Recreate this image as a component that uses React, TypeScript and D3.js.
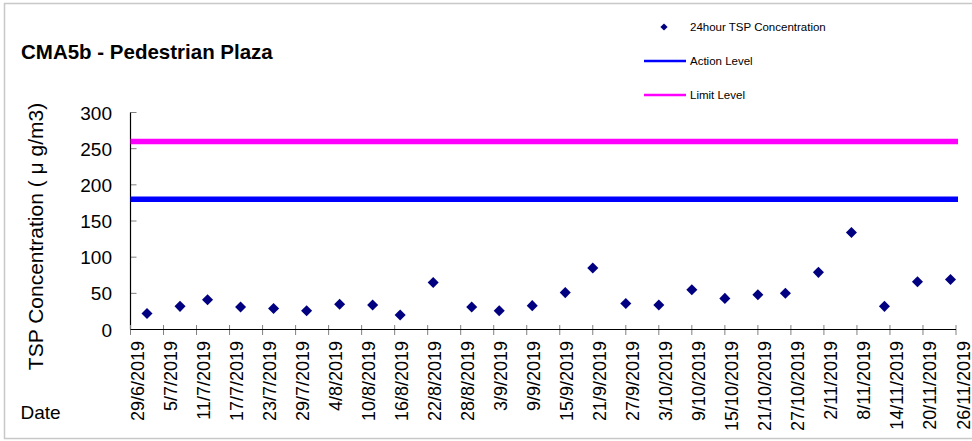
import React from "react";
import * as d3 from "d3";

const tickLabels = ["29/6/2019","5/7/2019","11/7/2019","17/7/2019","23/7/2019","29/7/2019","4/8/2019","10/8/2019","16/8/2019","22/8/2019","28/8/2019","3/9/2019","9/9/2019","15/9/2019","21/9/2019","27/9/2019","3/10/2019","9/10/2019","15/10/2019","21/10/2019","27/10/2019","2/11/2019","8/11/2019","14/11/2019","20/11/2019","26/11/2019"];
const sampleDates = ["2/7/2019","8/7/2019","13/7/2019","19/7/2019","25/7/2019","31/7/2019","6/8/2019","12/8/2019","17/8/2019","23/8/2019","30/8/2019","4/9/2019","10/9/2019","16/9/2019","21/9/2019","27/9/2019","3/10/2019","9/10/2019","15/10/2019","21/10/2019","26/10/2019","1/11/2019","7/11/2019","13/11/2019","19/11/2019","25/11/2019"];
const tspValues = [22, 32, 41, 31, 29, 26, 35, 34, 20, 65, 31, 26, 33, 51, 85, 36, 34, 55, 43, 48, 50, 79, 134, 32, 66, 69];
const yTicks = [0, 50, 100, 150, 200, 250, 300];
const actionLevel = 180;
const limitLevel = 260;

const parse = d3.utcParse("%d/%m/%Y");
const FONT = "'Liberation Sans', Arial, sans-serif";

export default function App() {
  const tickDates = tickLabels.map((t) => parse(t) as Date);
  const x = d3.scaleUtc().domain([tickDates[0], tickDates[tickDates.length - 1]]).range([130.5, 956]);
  const y = d3.scaleLinear().domain([0, 300]).range([329.5, 112.5]);
  const xL = x.range()[0];
  const xR = x.range()[1];
  const diamond = d3.symbol(d3.symbolSquare, 61)();
  const diamondSmall = d3.symbol(d3.symbolSquare, 26)();

  return (
    <svg width={972} height={441} style={{ position: "absolute", left: 0, top: 0, background: "#fff" }} fontFamily={FONT}>
      <rect x={0} y={0} width={972} height={441} fill="#fff" />
      <rect x={4.5} y={3.5} width={980} height={435} fill="none" stroke="#c8c8c8" strokeWidth={1.5} />

      <text x={21} y={59} fontSize={20.5} fontWeight="bold" fill="#000">CMA5b - Pedestrian Plaza</text>

      {/* legend */}
      <path d={diamondSmall!} transform="translate(664,27) rotate(45)" fill="#000080" />
      <text x={690} y={31} fontSize={11.5} fill="#000">24hour TSP Concentration</text>
      <line x1={644} x2={686} y1={61} y2={61} stroke="#0000ff" strokeWidth={2.7} />
      <text x={690} y={65} fontSize={11.5} fill="#000">Action Level</text>
      <line x1={644} x2={686} y1={95} y2={95} stroke="#ff00ff" strokeWidth={2.7} />
      <text x={690} y={99} fontSize={11.5} fill="#000">Limit Level</text>

      {/* y axis */}
      {yTicks.map((t) => (
        <g key={t}>
          <line x1={xL} x2={xL + 6} y1={y(t)} y2={y(t)} stroke="#808080" strokeWidth={1} />
          <text x={112} y={y(t) + 7} fontSize={19} textAnchor="end" fill="#000">{t}</text>
        </g>
      ))}
      <line x1={xL} x2={xL} y1={y(300)} y2={y(0)} stroke="#000" strokeWidth={1.2} />
      <text transform={`translate(42.5,236.5) rotate(-90)`} fontSize={21} textAnchor="middle" fill="#000">TSP Concentration ( μ g/m3)</text>

      {/* reference lines */}
      <line x1={xL} x2={xR + 2} y1={y(limitLevel)} y2={y(limitLevel)} stroke="#ff00ff" strokeWidth={5.5} />
      <line x1={xL} x2={xR + 2} y1={y(actionLevel)} y2={y(actionLevel)} stroke="#0000ff" strokeWidth={5.5} />

      {/* x axis */}
      {tickDates.map((d, i) => (
        <g key={tickLabels[i]}>
          <line x1={x(d)} x2={x(d)} y1={325} y2={335} stroke="#808080" strokeWidth={1} />
          <text transform={`translate(${x(d) + 13.5},341) rotate(-90)`} fontSize={18} textAnchor="end" fill="#000">{tickLabels[i]}</text>
        </g>
      ))}
      <line x1={xL} x2={xR} y1={y(0)} y2={y(0)} stroke="#000" strokeWidth={1.2} />
      <text x={20.5} y={419} fontSize={19} fill="#000">Date</text>

      {/* data */}
      {sampleDates.map((s, i) => (
        <path key={s} d={diamond!} transform={`translate(${x(parse(s) as Date)},${y(tspValues[i])}) rotate(45)`} fill="#000080" />
      ))}
    </svg>
  );
}
